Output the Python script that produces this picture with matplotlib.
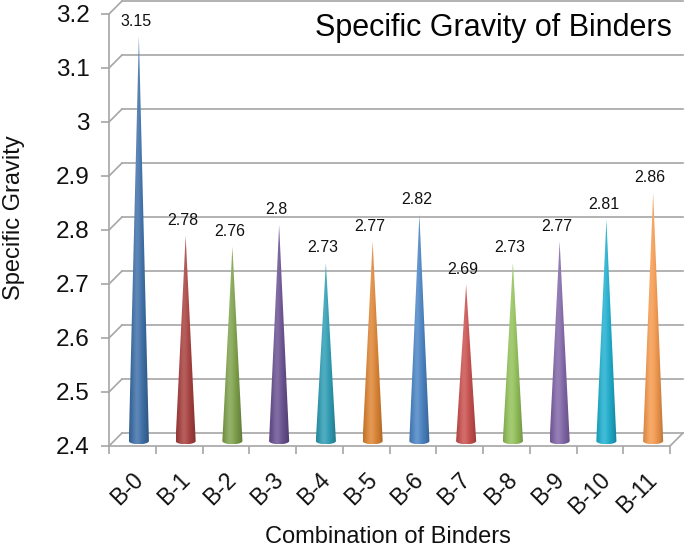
import numpy as np
import matplotlib.pyplot as plt
from matplotlib.patches import Polygon
from matplotlib.patches import ConnectionPatch
from matplotlib.transforms import ScaledTranslation
from matplotlib.colors import to_rgb

# valores
binders = ['B-0', 'B-1', 'B-2', 'B-3', 'B-4', 'B-5',
           'B-6', 'B-7', 'B-8', 'B-9', 'B-10', 'B-11']
gravity = [3.15, 2.78, 2.76, 2.8, 2.73, 2.77,
           2.82, 2.69, 2.73, 2.77, 2.81, 2.86]
colors = ['#3d6fa8', '#a8403e', '#7fa24b', '#6a5191', '#2e9db4', '#dd8433',
          '#4a84c4', '#c9504e', '#93c15a', '#8166a8', '#1eafcf', '#f59a4e']
yticks = [2.4, 2.5, 2.6, 2.7, 2.8, 2.9, 3.0, 3.1, 3.2]

plt.rcParams['font.family'] = ['Liberation Sans', 'DejaVu Sans']
W, H = 685, 549
GRAY = '#a6a6a6'
TXT = '#111111'

fig = plt.figure(figsize=(W / 100, H / 100), dpi=100)
ax = fig.add_axes([109 / W, (H - 446) / H, (670 - 109) / W, (446 - 14) / H])
ax.set_xlim(0, len(binders))
ax.set_ylim(yticks[0], yticks[-1])


def shift(dx, dy):
    # deslocamento em pixels (profundidade do 3D)
    return ax.transData + ScaledTranslation(dx / 100, dy / 100, fig.dpi_scale_trans)


back = shift(13, 13)
mid = shift(6.5, 5)

# parede do fundo, lateral e piso
for y in yticks:
    ax.plot([0, len(binders)], [y, y], color=GRAY, lw=1.2, transform=back, clip_on=False)
    con = ConnectionPatch((0, y), (0, y), coordsA=ax.transData, coordsB=back,
                          color=GRAY, lw=1.2)
    fig.add_artist(con)
con = ConnectionPatch((len(binders), yticks[0]), (len(binders), yticks[0]),
                      coordsA=ax.transData, coordsB=back, color=GRAY, lw=1.2)
fig.add_artist(con)

# cones
hw = 0.215
e = 0.006
theta = np.linspace(0, np.pi, 30)
t = np.linspace(0, 1, 80)
light = 0.16 * np.exp(-((t - 0.38) / 0.2) ** 2)
dark = 0.28 * (np.abs(t - 0.42) / 0.58) ** 2
for i, (v, c) in enumerate(zip(gravity, colors)):
    cx = i + 0.5
    base = np.array(to_rgb(c))
    rgb = base[None, :] * (1 - dark[:, None]) + (1 - base[None, :]) * light[:, None]
    img = np.clip(rgb, 0, 1)[None, :, :].repeat(2, axis=0)
    pts = [(cx, v), (cx + hw, yticks[0])]
    pts += [(cx + hw * np.cos(a), yticks[0] - e * np.sin(a)) for a in theta]
    pts += [(cx - hw, yticks[0])]
    poly = Polygon(pts, closed=True, transform=mid, facecolor='none', edgecolor='none')
    ax.add_patch(poly)
    im = ax.imshow(img, extent=[cx - hw, cx + hw, yticks[0] - e, v], aspect='auto',
                   transform=mid, interpolation='bilinear', zorder=3)
    im.set_clip_path(poly)
    ax.annotate(f'{v:g}', (cx, v), xycoords=mid, xytext=(-3, 15),
                textcoords='offset pixels', ha='center', va='center',
                fontsize=11.5, color=TXT)

ax.set_xlim(0, len(binders))
ax.set_ylim(yticks[0], yticks[-1])

# eixos
for s in ['top', 'right']:
    ax.spines[s].set_visible(False)
for s in ['left', 'bottom']:
    ax.spines[s].set_color(GRAY)
    ax.spines[s].set_linewidth(1.2)
ax.set_yticks(yticks, [f'{v:g}' for v in yticks])
ax.set_xticks(range(len(binders) + 1), [''] * (len(binders) + 1))
ax.set_xticks(np.arange(len(binders)) + 0.5, binders, minor=True,
              rotation=45, ha='right', rotation_mode='anchor')
ax.tick_params(axis='y', length=6, color=GRAY, width=1.2, pad=8,
               labelsize=17.5, labelcolor=TXT)
ax.tick_params(axis='x', which='major', length=6, color=GRAY, width=1.2)
ax.tick_params(axis='x', which='minor', length=0, pad=16,
               labelsize=16.5, labelcolor=TXT)
for lbl in ax.get_xticklabels(minor=True):
    lbl.set_transform(lbl.get_transform() + ScaledTranslation(-0.01, 0, fig.dpi_scale_trans))

fig.text(672 / W, 1 - 28 / H, 'Specific Gravity of Binders', ha='right', va='center',
         fontsize=22, color='#050505')
fig.text(14 / W, 1 - 218 / H, 'Specific Gravity', rotation=90, ha='center', va='center',
         fontsize=17, color=TXT)
fig.text(388 / W, 1 - 537 / H, 'Combination of Binders', ha='center', va='center',
         fontsize=17, color=TXT)

fig.savefig('out.png', dpi=100)
